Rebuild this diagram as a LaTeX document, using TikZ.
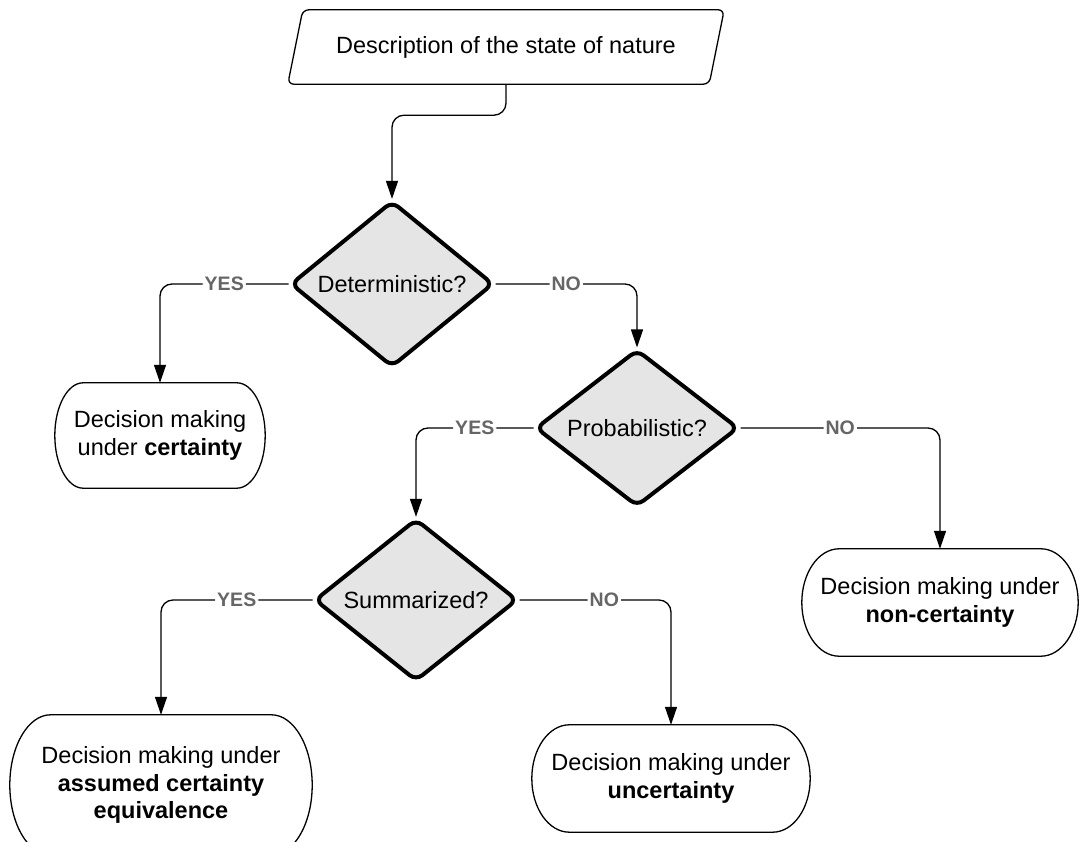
\documentclass[tikz,border=0pt]{standalone}
\usepackage{fontspec}
\setmainfont{Liberation Sans}
\usetikzlibrary{shapes.geometric,arrows.meta,calc}

\definecolor{decfill}{HTML}{E5E5E5}
\definecolor{lblgray}{HTML}{666666}

% outline of a terminal (pill with half-elliptic ends) around a named node
\newcommand\termoutline[1]{%
  \draw[line width=1.3pt] let \p1=(#1.north west), \p2=(#1.south east),
     \n1={0.135*(\x2-\x1)}, \n2={(\y1-\y2)/2} in
     ({\x1+\n1},\y1) -- ({\x2-\n1},\y1)
     arc[start angle=90, end angle=-90, x radius=\n1, y radius=\n2]
     -- ({\x1+\n1},\y2)
     arc[start angle=270, end angle=90, x radius=\n1, y radius=\n2] -- cycle;}

\begin{document}
\begin{tikzpicture}[x=1pt,y=1pt,
  txt/.style={font=\fontsize{23.5}{27.5}\selectfont, align=center},
  decision/.style={diamond, draw, fill=decfill, line width=4pt, rounded corners=8pt,
    minimum width=203pt, minimum height=153pt, inner sep=0pt, txt},
  term/.style={txt, inner sep=0pt},
  flow/.style={line width=1.3pt, rounded corners=12pt,
    -{Triangle[width=12pt,length=18pt]}},
  lbl/.style={fill=white, inner sep=2pt, text=lblgray,
    font=\fontsize{19.5}{22}\selectfont\bfseries}
]
\useasboundingbox (0,0) rectangle (1079,841);

% start: input parallelogram
\node[txt, minimum width=421pt, minimum height=74pt, inner sep=0pt] (desc) at (506,794)
  {Description of the state of nature};
\draw[line width=1.3pt, rounded corners=6pt]
  ([xshift=7.5pt]desc.north west) -- ([xshift=7.5pt]desc.north east)
  -- ([xshift=-7.5pt]desc.south east) -- ([xshift=-7.5pt]desc.south west) -- cycle;

% decisions
\node[decision] (det)  at (392,557) {Deterministic?};
\node[decision] (prob) at (637,413) {Probabilistic?};
\node[decision] (sum)  at (416,241) {Summarized?};

% outcomes
\node[term, minimum width=210pt, minimum height=105pt] (cert) at (160,405.5)
  {Decision making\\under \textbf{certainty}};
\node[term, minimum width=276pt, minimum height=107pt] (noncert) at (940,238.5)
  {Decision making under\\\textbf{non-certainty}};
\node[term, minimum width=302pt, minimum height=140pt] (assum) at (161,56)
  {Decision making under\\\textbf{assumed certainty}\\\textbf{equivalence}};
\node[term, minimum width=278pt, minimum height=107pt] (uncert) at (671,62.5)
  {Decision making under\\\textbf{uncertainty}};
\termoutline{cert}
\termoutline{noncert}
\termoutline{assum}
\termoutline{uncert}

% connectors
\draw[flow] (desc.south) -- ++(0,-31) -| (det.north);
\draw[flow] (det.west) -| node[lbl,pos=0.25]{YES} (cert.north);
\draw[flow] (det.east) -| node[lbl,pos=0.25]{NO} (prob.north);
\draw[flow] (prob.west) -| node[lbl,pos=0.25]{YES} (sum.north);
\draw[flow] (prob.east) -| node[lbl,pos=0.25]{NO} (noncert.north);
\draw[flow] (sum.west) -| node[lbl,pos=0.25]{YES} (assum.north);
\draw[flow] (sum.east) -| node[lbl,pos=0.28]{NO} (uncert.north);
\end{tikzpicture}
\end{document}
